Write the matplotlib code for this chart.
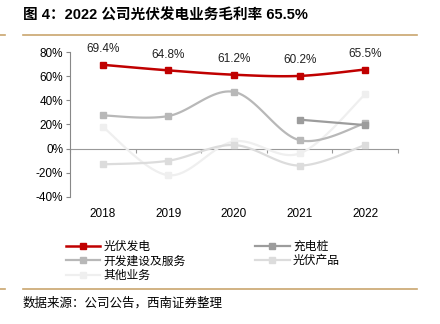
import numpy as np
import matplotlib.pyplot as plt
from matplotlib.lines import Line2D

plt.rcParams['font.family'] = ['Liberation Sans', 'Noto Sans CJK SC', 'DejaVu Sans']

years = ['2018', '2019', '2020', '2021', '2022']
pv_power = [69.4, 64.8, 61.2, 60.2, 65.5]          # 光伏发电
charging = [np.nan, np.nan, np.nan, 24.0, 19.5]    # 充电桩
dev_service = [27.5, 27.0, 47.0, 7.0, 21.0]        # 开发建设及服务
pv_product = [-13.0, -10.0, 3.0, -14.0, 3.0]       # 光伏产品
other_biz = [18.0, -22.0, 6.0, -4.0, 45.0]         # 其他业务
y_ticks = [-40, -20, 0, 20, 40, 60, 80]


def smooth(x, y, n=24):
    """Excel-style smoothed line (Catmull-Rom / Bezier)."""
    x = np.asarray(x, float)
    y = np.asarray(y, float)
    ok = ~np.isnan(y)
    x, y = x[ok], y[ok]
    if len(x) < 3:
        return x, y
    pts = np.column_stack([x, y])
    out = []
    for i in range(len(pts) - 1):
        p0 = pts[i - 1] if i > 0 else pts[i]
        p1 = pts[i]
        p2 = pts[i + 1]
        p3 = pts[i + 2] if i + 2 < len(pts) else pts[i + 1]
        c1 = p1 + (p2 - p0) / 6
        c2 = p2 - (p3 - p1) / 6
        t = np.linspace(0, 1, n)[:, None]
        seg = ((1 - t) ** 3) * p1 + 3 * ((1 - t) ** 2) * t * c1 + 3 * (1 - t) * t ** 2 * c2 + t ** 3 * p2
        out.append(seg if i == 0 else seg[1:])
    out = np.vstack(out)
    return out[:, 0], out[:, 1]


fig = plt.figure(figsize=(4.4, 3.24), dpi=100)
ax = fig.add_axes([0.159, 0.392, 0.7455, 0.4475])

x = np.arange(len(years))
series = [
    ('光伏发电', pv_power, '#c00000', 1.8),
    ('充电桩', charging, '#9c9c9c', 1.6),
    ('开发建设及服务', dev_service, '#b8b8b8', 1.6),
    ('光伏产品', pv_product, '#dcdcdc', 1.6),
    ('其他业务', other_biz, '#efefef', 1.6),
]
handles = {}
for name, vals, color, lw in reversed(series):
    sx, sy = smooth(x, vals)
    ax.plot(sx, sy, color=color, lw=lw, zorder=3)
    ax.plot(x, vals, ls='none', marker='s', ms=4.5, color=color, zorder=4)
    handles[name] = Line2D([], [], color=color, lw=lw, marker='s', ms=4.5)

for xi, v in zip(x, pv_power):
    ax.annotate(f'{v:.1f}%', (xi, v), xytext=(0, 7), textcoords='offset points',
                ha='center', va='bottom', fontsize=8.5, color='#222222')

ax.set_xlim(-0.5, len(years) - 0.5)
ax.set_ylim(-40, 80)
ax.set_yticks(y_ticks)
ax.set_yticklabels([f'{t}%' for t in y_ticks], fontsize=8.5)
ax.set_xticks(x)
ax.set_xticklabels(years, fontsize=8.5)
ax.tick_params(axis='x', length=0, pad=8)
ax.tick_params(axis='y', length=3, color='#888888', pad=2)
for s in ['top', 'right', 'bottom']:
    ax.spines[s].set_visible(False)
ax.spines['left'].set_color('#888888')

zero_pos = (0 - (-40)) / 120
sec = ax.secondary_xaxis(zero_pos)
sec.set_xticks(np.arange(-0.5, len(years), 1.0))
sec.set_xticklabels([])
sec.tick_params(length=3, color='#999999')
sec.spines['bottom'].set_color('#999999')

order = ['光伏发电', '开发建设及服务', '其他业务', '充电桩', '光伏产品']
fig.legend([handles[k] for k in order], order, ncol=2, frameon=False,
           loc='upper left', bbox_to_anchor=(0.125, 0.292),
           handlelength=2.9, columnspacing=5.9, labelspacing=0.12,
           handletextpad=0.3, prop={'family': ['Noto Sans CJK SC'], 'size': 8.5})

gold = '#c9a66e'
fig.add_artist(Line2D([23 / 440, 417 / 440], [1 - 35 / 324] * 2, color=gold, lw=1.2))
fig.add_artist(Line2D([0, 5 / 440], [1 - 35 / 324] * 2, color=gold, lw=1.2))
fig.add_artist(Line2D([23 / 440, 417 / 440], [1 - 289 / 324] * 2, color=gold, lw=1.2))
fig.add_artist(Line2D([0, 5 / 440], [1 - 289 / 324] * 2, color=gold, lw=1.2))

fig.text(23 / 440, 1 - 16 / 324, '图 4：2022 公司光伏发电业务毛利率 65.5%', fontsize=10.5,
         fontweight='bold', va='center', ha='left')
fig.text(23 / 440, 1 - 303 / 324, '数据来源：公司公告，西南证券整理', fontsize=9,
         va='center', ha='left', style='italic', family=['Noto Sans CJK SC'])

fig.savefig('out.png', dpi=100)
